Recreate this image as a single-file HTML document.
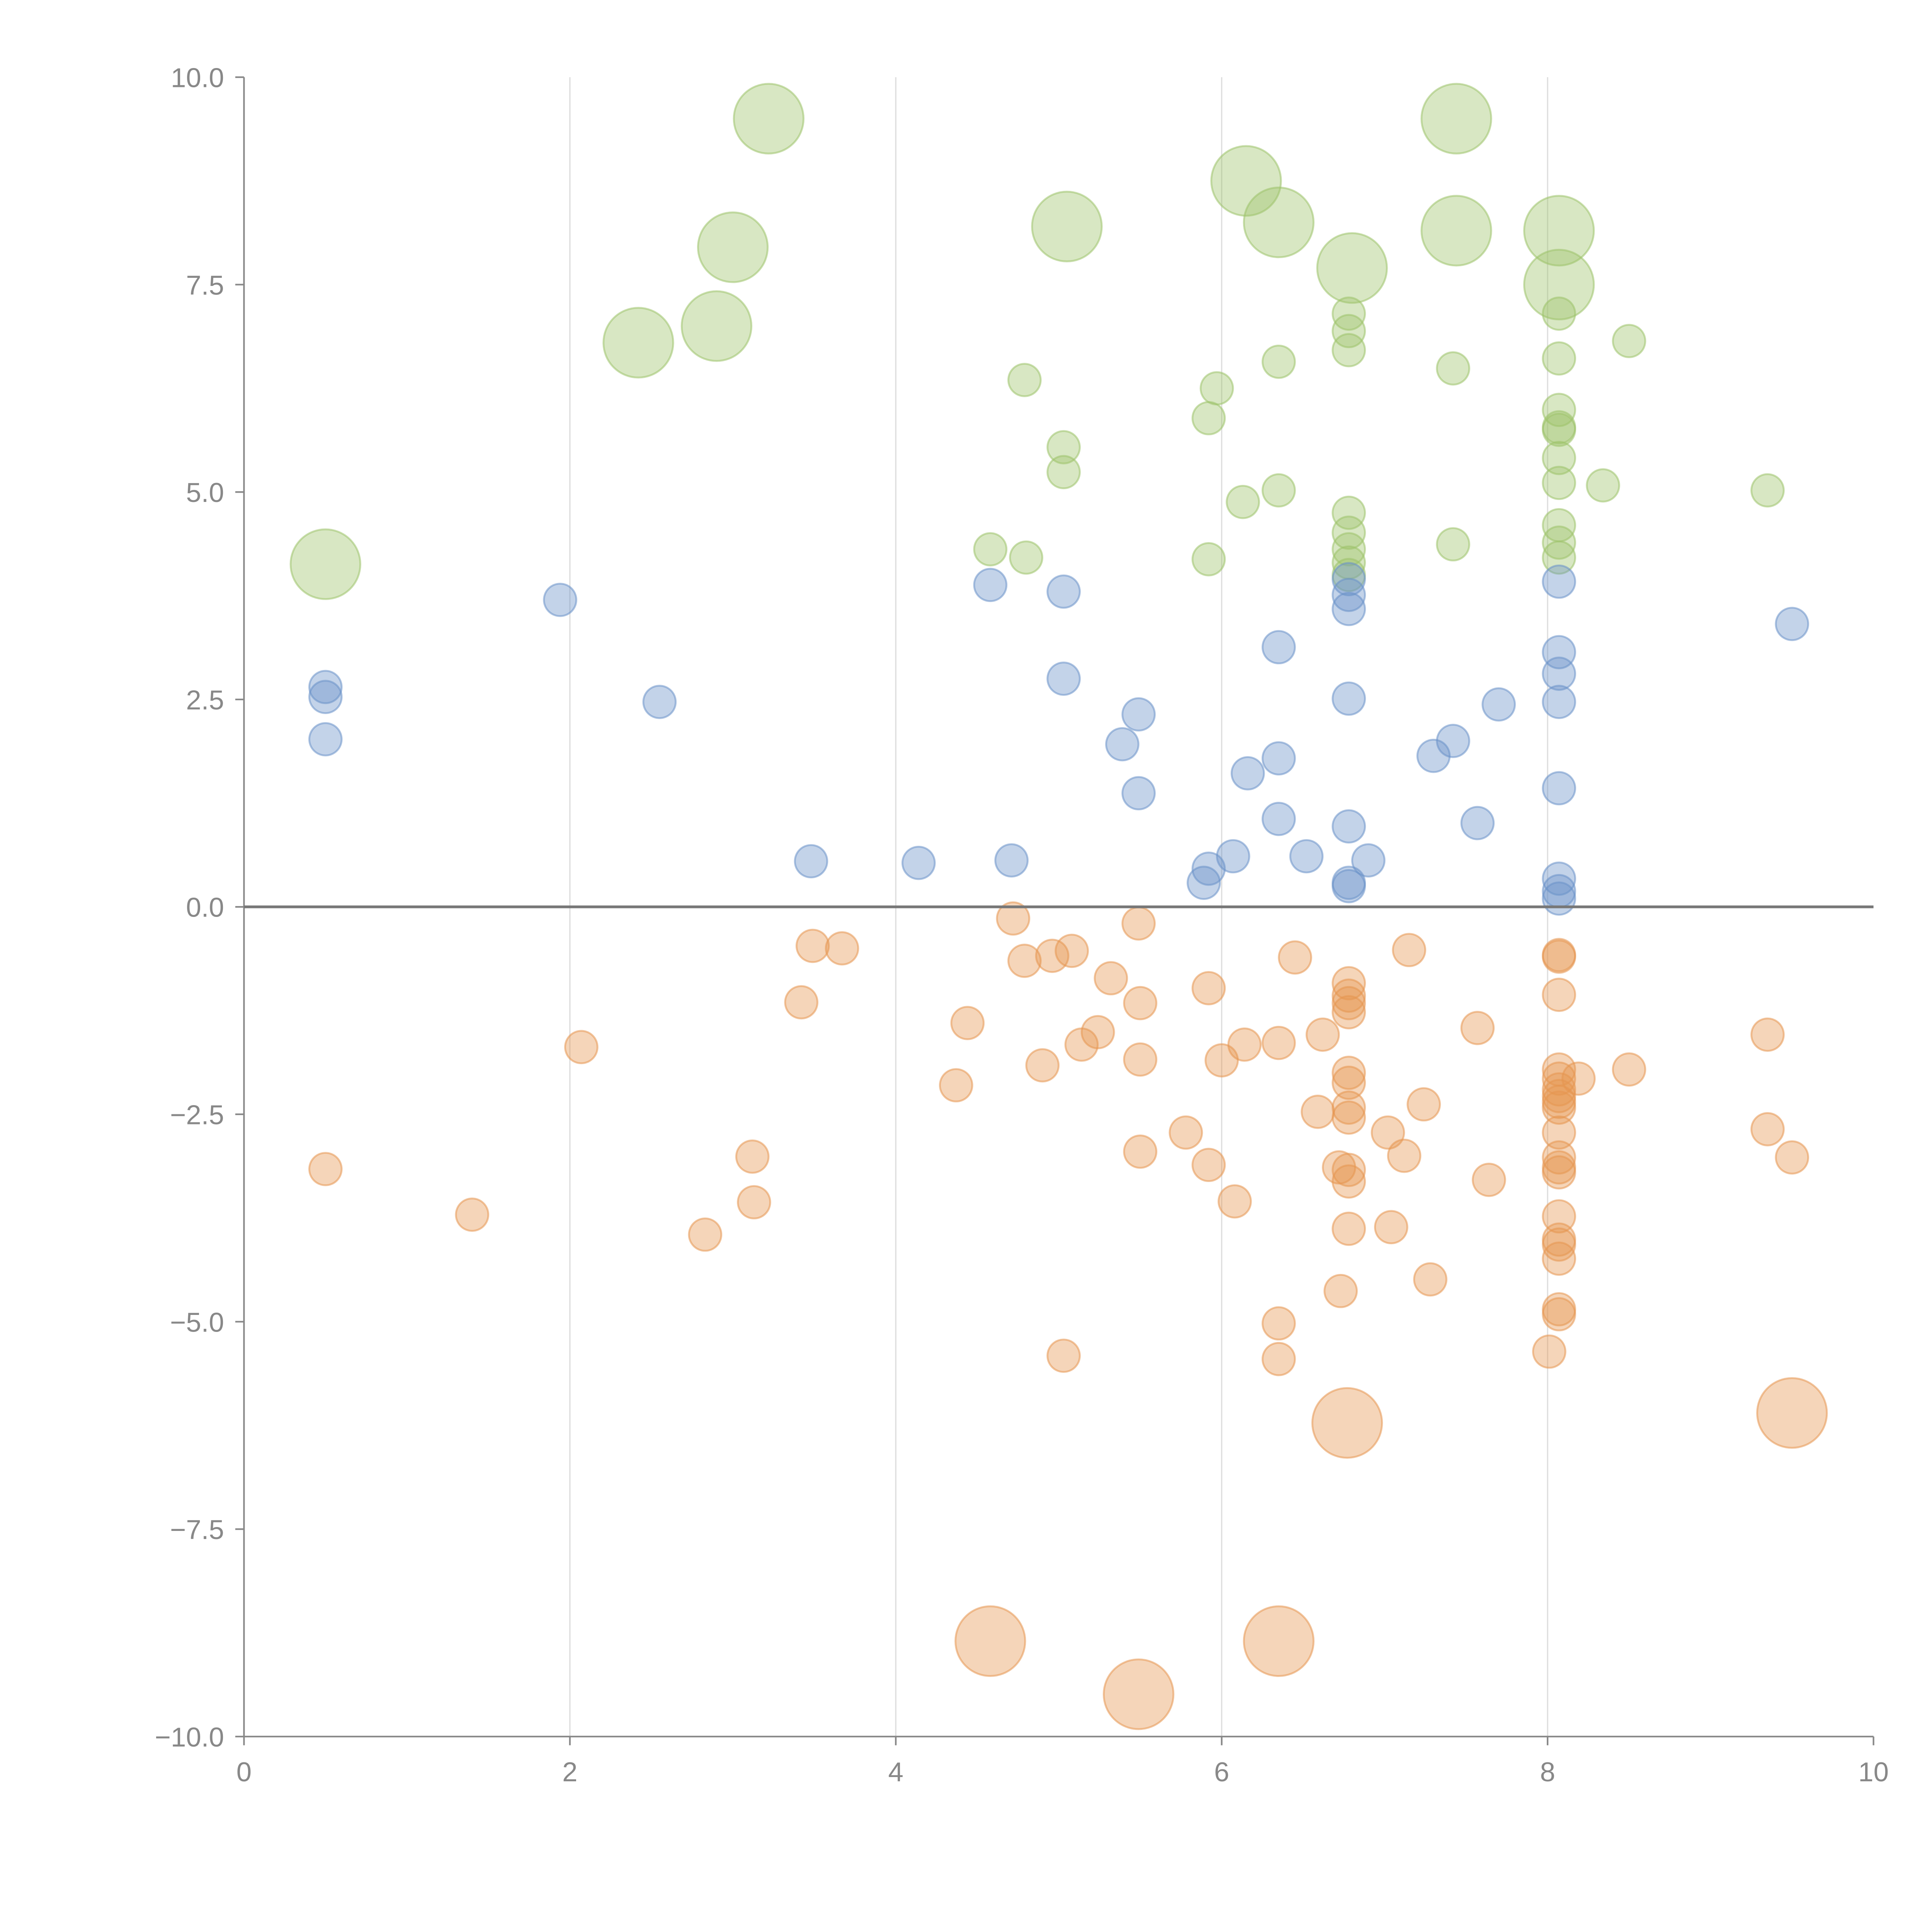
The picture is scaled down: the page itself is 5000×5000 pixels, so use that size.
<!DOCTYPE html>
<html><head><meta charset="utf-8"><style>
html,body{margin:0;padding:0;background:#fff}
svg{display:block}
text{font-family:"Liberation Sans",sans-serif}
</style></head><body>
<svg id="chart" width="5000" height="5000" viewBox="0 0 1552 1552" xmlns="http://www.w3.org/2000/svg">
<g id="grid"></g>
<g id="axes"></g>
<g id="marks"></g>
</svg>
<script>
const xTicks=[0,2,4,6,8,10];
const xTickLabels=["0","2","4","6","8","10"];
const yTicks=[10,7.5,5,2.5,0,-2.5,-5,-7.5,-10];
const yTickLabels=["10.0","7.5","5.0","2.5","0.0","\u22122.5","\u22125.0","\u22127.5","\u221210.0"];

const greenBigX=[3.22,7.44,6.15,6.35,5.05,7.44,8.07,3.0,6.8,8.07,2.9,2.42,0.5];
const greenBigY=[9.5,9.5,8.75,8.25,8.2,8.15,8.15,7.95,7.7,7.5,7.0,6.8,4.13];
const greenX=[4.79,6.35,6.78,6.78,6.78,7.42,8.07,8.07,8.5,5.97,5.92,5.03,5.03,6.13,6.35,4.58,4.80,5.92,6.78,6.78,6.78,6.78,6.78,7.42,8.07,8.07,8.07,8.07,8.07,8.07,8.07,8.07,8.34,9.35];
const greenY=[6.35,6.57,7.15,6.94,6.71,6.49,7.15,6.61,6.82,6.25,5.89,5.54,5.24,4.88,5.02,4.31,4.21,4.19,4.75,4.51,4.31,4.15,4.0,4.37,5.99,5.75,5.41,5.11,4.6,4.39,4.21,5.78,5.08,5.02];

const blueX=[0.5,0.5,0.5,1.94,2.55,3.48,4.14,4.71,4.58,5.03,5.03,5.39,5.49,5.49,5.89,5.92,6.07,6.16,6.35,6.35,6.35,6.52,6.78,6.78,6.78,6.78,6.78,6.78,6.78,6.90,7.30,7.42,7.57,7.70,8.07,8.07,8.07,8.07,8.07,8.07,8.07,8.07,9.5];
const blueY=[2.65,2.53,2.02,3.7,2.47,0.55,0.53,0.56,3.88,3.8,2.75,1.96,2.32,1.37,0.29,0.46,0.61,1.61,1.79,3.13,1.06,0.61,3.95,3.76,3.59,2.51,0.97,0.29,0.25,0.56,1.82,2.0,1.01,2.44,3.92,3.07,2.81,2.47,1.43,0.34,0.19,0.1,3.41];

const orangeBigX=[4.58,5.49,6.35,6.77,9.5];
const orangeBigY=[-8.85,-9.49,-8.85,-6.22,-6.1];
const orangeX=[0.5,1.4,2.07,2.83,3.12,3.13,3.42,3.49,3.67,4.37,4.44,4.72,4.79,4.9,4.96,5.08,5.03,5.14,5.24,5.32,5.49,5.5,5.5,5.5,5.78,5.92,5.92,6.0,6.08,6.14,6.35,6.35,6.35,6.45,6.59,6.62,6.72,6.73,6.78,6.78,6.78,6.78,6.78,6.78,6.78,6.78,6.78,6.78,6.78,7.02,7.04,7.12,7.15,7.24,7.28,7.57,7.64,8.07,8.07,8.07,8.07,8.07,8.07,8.07,8.07,8.07,8.07,8.07,8.07,8.07,8.07,8.07,8.07,8.07,8.07,8.07,8.01,8.19,8.5,9.35,9.35,9.5];
const orangeY=[-3.16,-3.71,-1.69,-3.95,-3.01,-3.56,-1.15,-0.47,-0.5,-2.15,-1.4,-0.14,-0.65,-1.91,-0.59,-0.53,-5.41,-1.66,-1.51,-0.86,-0.2,-1.16,-1.84,-2.95,-2.72,-0.98,-3.11,-1.85,-3.55,-1.66,-1.64,-5.02,-5.45,-0.61,-2.47,-1.54,-3.14,-4.63,-0.92,-1.07,-1.16,-1.27,-2.0,-2.12,-2.42,-2.54,-3.17,-3.31,-3.88,-2.72,-3.86,-3.0,-0.52,-2.38,-4.49,-1.46,-3.29,-0.58,-0.6,-1.06,-1.96,-2.07,-2.2,-2.28,-2.35,-2.42,-2.72,-3.02,-3.14,-3.2,-3.73,-4.01,-4.07,-4.24,-4.85,-4.91,-5.36,-2.07,-1.96,-1.54,-2.68,-3.02,-1.61];

const NS="http://www.w3.org/2000/svg";
const X0=196,X1=1505,Y0=1395,Y1=62;
function sx(v){return X0+(v-0)/(10-0)*(X1-X0);}
function sy(v){return Y0-(v-(-10))/(20)*(Y0-Y1);}
function mk(tag,attrs,parent){const e=document.createElementNS(NS,tag);for(const k in attrs)e.setAttribute(k,attrs[k]);parent.appendChild(e);return e;}
const grid=document.getElementById('grid'),axes=document.getElementById('axes'),marks=document.getElementById('marks');
[2,4,6,8].forEach(v=>{const l=mk('line',{x1:sx(v),x2:sx(v),y1:Y1,y2:Y0,stroke:'#dddddd','stroke-width':1},grid);

});
const ya=mk('line',{x1:X0,x2:X0,y1:Y1,y2:Y0,stroke:'#888','stroke-width':1.3},axes);


const xa=mk('line',{x1:X0,x2:X1,y1:Y0,y2:Y0,stroke:'#888','stroke-width':1.3},axes);


xTicks.forEach((v,i)=>{mk('line',{x1:sx(v),x2:sx(v),y1:Y0,y2:Y0+7,stroke:'#888','stroke-width':1.3},axes);
const t=mk('text',{x:sx(v),y:Y0+36,'text-anchor':'middle','font-size':22,fill:'#888'},axes);t.textContent=xTickLabels[i];

});
yTicks.forEach((v,i)=>{mk('line',{x1:X0-7,x2:X0,y1:sy(v),y2:sy(v),stroke:'#888','stroke-width':1.3},axes);
const t=mk('text',{x:X0-16,y:sy(v)+8,'text-anchor':'end','font-size':22,fill:'#888'},axes);t.textContent=yTickLabels[i];

});
function series(xs,ys,r,color,name){xs.forEach((x,i)=>{const c=mk('circle',{cx:sx(x),cy:sy(ys[i]),r:r,fill:color,'fill-opacity':0.4,stroke:color,'stroke-opacity':0.55,'stroke-width':1.5},marks);

});}
series(greenBigX,greenBigY,28,'#9dc26a','green-large-bubble');
series(greenX,greenY,13,'#9dc26a','green-bubble');
series(blueX,blueY,13,'#6a92c8','blue-bubble');
series(orangeX,orangeY,13,'#e69550','orange-bubble');
series(orangeBigX,orangeBigY,28,'#e69550','orange-large-bubble');
const z=mk('line',{x1:X0,x2:X1,y1:sy(0),y2:sy(0),stroke:'#777','stroke-width':2.2},marks);


</script>
</body></html>
